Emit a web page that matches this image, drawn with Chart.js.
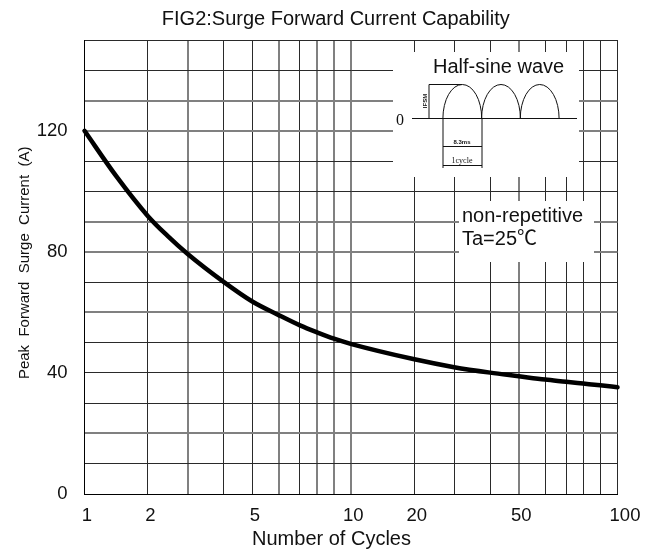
<!DOCTYPE html>
<html>
<head>
<meta charset="utf-8">
<style>
  html, body { margin: 0; padding: 0; background: #fff; }
  #wrap { width: 657px; height: 551px; }
</style>
<script src="https://cdn.jsdelivr.net/npm/chart.js@4/dist/chart.umd.js"></script>
</head>
<body>
<div id="wrap"><canvas id="myChart"></canvas></div>
<script>
const gridCycles = [1, 2, 3, 4, 5, 6, 7, 8, 9, 10, 20, 30, 40, 50, 60, 70, 80, 90, 100];
const curveCycles = [1, 1.5, 2, 2.5, 3, 4, 5, 6, 7, 8, 9, 10, 20, 30, 40, 50, 60, 70, 80, 90, 100];
const surgeCurrent = [120, 105, 91.8, 85.2, 79.3, 70, 63.6, 59.1, 55.7, 53.4, 51.3, 49.6, 44.5, 41.9, 40.1, 38.9, 37.8, 37.1, 36.5, 35.9, 35.3];
const xTickLabels = [1, 2, 5, 10, 20, 50, 100];
const yTickLabels = [0, 40, 80, 120];

// the printed log paper is not a true log scale, this is where its lines sit (fraction of axis width)
const paperLines = [0, 0.1191, 0.1936, 0.2617, 0.3148, 0.3644, 0.4043, 0.4362, 0.4681, 0.4994,
  0.6189, 0.6934, 0.7610, 0.8149, 0.8642, 0.9036, 0.9355, 0.9674, 1];
const softX = [3, 6, 8, 9, 10, 50];
const softY = [20, 60, 80, 90, 120, 130];

const FONT = '"Liberation Sans", "Noto Sans CJK SC", Arial, sans-serif';
const LINE = '#2a2a2a';
const SOFT = '#808080';

class PaperScale extends Chart.LinearScale {
  buildTicks() {
    return gridCycles.map(value => ({ value }));
  }
  getPixelForValue(value) {
    let i = 0;
    while (i < gridCycles.length - 2 && value > gridCycles[i + 1]) i++;
    const t = (value - gridCycles[i]) / (gridCycles[i + 1] - gridCycles[i]);
    const frac = paperLines[i] + t * (paperLines[i + 1] - paperLines[i]);
    return this.left + frac * this.width;
  }
  // the "100" sits further right than the other labels
  _computeLabelItems(chartArea) {
    const items = super._computeLabelItems(chartArea);
    items[items.length - 1].options.translation[0] += 5;
    return items;
  }
  // axis title is off-centre in the original
  drawTitle() {
    this.ctx.save();
    this.ctx.translate(-19.5, 0);
    super.drawTitle();
    this.ctx.restore();
  }
}
PaperScale.id = 'paper';
PaperScale.defaults = Chart.LinearScale.defaults;
Chart.register(PaperScale);

function text(ctx, str, x, y, font, align) {
  ctx.font = font;
  ctx.textAlign = align || 'left';
  ctx.fillText(str, x, y);
}

// white boxes cut out of the grid plus the half-sine sketch
const insetPlugin = {
  id: 'inset',
  afterLayout(chart) {
    chart.titleBlock.left += 27;
    chart.titleBlock.right += 27;
  },
  beforeDatasetsDraw(chart) {
    const ctx = chart.ctx;
    ctx.save();
    ctx.fillStyle = '#fff';
    ctx.fillRect(393, 52, 186, 125);
    ctx.fillRect(459, 201, 135, 61);

    ctx.strokeStyle = '#111';
    ctx.fillStyle = '#111';
    ctx.lineWidth = 1;
    ctx.beginPath();
    ctx.moveTo(412, 118.5); ctx.lineTo(577, 118.5);
    ctx.moveTo(429, 84.5); ctx.lineTo(462, 84.5);
    ctx.moveTo(429, 84.5); ctx.lineTo(429, 118.5);
    ctx.moveTo(443, 118.5); ctx.lineTo(443, 168);
    ctx.moveTo(482, 118.5); ctx.lineTo(482, 168);
    ctx.moveTo(443, 146.5); ctx.lineTo(482, 146.5);
    ctx.moveTo(443, 165.5); ctx.lineTo(482, 165.5);
    ctx.stroke();
    [462.3, 501, 539.7].forEach(cx => {
      ctx.beginPath();
      ctx.ellipse(cx, 118.5, 19.4, 34, 0, Math.PI, 2 * Math.PI);
      ctx.stroke();
    });

    text(ctx, 'Half-sine wave', 433, 73, '20px ' + FONT);
    text(ctx, 'non-repetitive', 462, 222, '20px ' + FONT);
    text(ctx, 'Ta=25℃', 462, 245, '20px ' + FONT);
    text(ctx, '0', 396, 124.5, '16px "Liberation Serif", serif');
    text(ctx, '8.3ms', 462, 144, 'bold 6px ' + FONT, 'center');
    text(ctx, '1cycle', 462, 163, '8px "Liberation Serif", serif', 'center');
    ctx.translate(427, 101);
    ctx.rotate(-Math.PI / 2);
    text(ctx, 'IFSM', 0, 0, 'bold 6px ' + FONT, 'center');
    ctx.restore();
  }
};

const chart = new Chart(document.getElementById('myChart'), {
  type: 'line',
  data: {
    labels: curveCycles,
    datasets: [{
      label: 'Peak Forward Surge Current',
      data: curveCycles.map((c, i) => ({ x: c, y: surgeCurrent[i] })),
      borderColor: '#000',
      borderWidth: 4.5,
      borderCapStyle: 'round',
      pointRadius: 0,
      cubicInterpolationMode: 'monotone',
      clip: false
    }]
  },
  plugins: [insetPlugin],
  options: {
    responsive: true,
    maintainAspectRatio: false,
    animation: false,
    layout: { padding: { right: 39.5 } },
    plugins: {
      legend: { display: false },
      tooltip: { enabled: false },
      title: {
        display: true,
        text: 'FIG2:Surge Forward Current Capability',
        color: '#111',
        font: { family: FONT, size: 20, weight: 'normal' },
        padding: { top: 7, bottom: 9 }
      }
    },
    scales: {
      x: {
        type: 'paper',
        min: 1,
        max: 100,
        afterFit(scale) { scale.height = 57; },
        border: { color: '#000', width: 1 },
        grid: {
          drawTicks: false,
          color: c => softX.includes(c.tick.value) ? SOFT : LINE,
          lineWidth: c => softX.includes(c.tick.value) ? 2 : 1
        },
        ticks: {
          autoSkip: false,
          maxRotation: 0,
          padding: 11,
          labelOffset: 2.5,
          color: '#111',
          font: { family: FONT, size: 18.5 },
          callback: value => xTickLabels.includes(value) ? String(value) : ''
        },
        title: {
          display: true,
          text: 'Number of Cycles',
          color: '#111',
          font: { family: FONT, size: 20 },
          padding: { top: 0, bottom: 0 }
        }
      },
      y: {
        min: 0,
        max: 150,
        afterFit(scale) { scale.width = 84.5; },
        border: { color: '#000', width: 1 },
        grid: {
          drawTicks: false,
          color: c => softY.includes(c.tick.value) ? SOFT : LINE,
          lineWidth: c => softY.includes(c.tick.value) ? 2 : 1
        },
        ticks: {
          stepSize: 10,
          autoSkip: false,
          padding: 17,
          color: '#111',
          font: { family: FONT, size: 18.5 },
          callback: value => yTickLabels.includes(value) ? String(value) : ''
        },
        title: {
          display: true,
          text: '  Peak  Forward  Surge  Current  (A)',
          color: '#111',
          font: { family: FONT, size: 15 },
          padding: { top: 16, bottom: 0 }
        }
      }
    }
  }
});
</script>
</body>
</html>
